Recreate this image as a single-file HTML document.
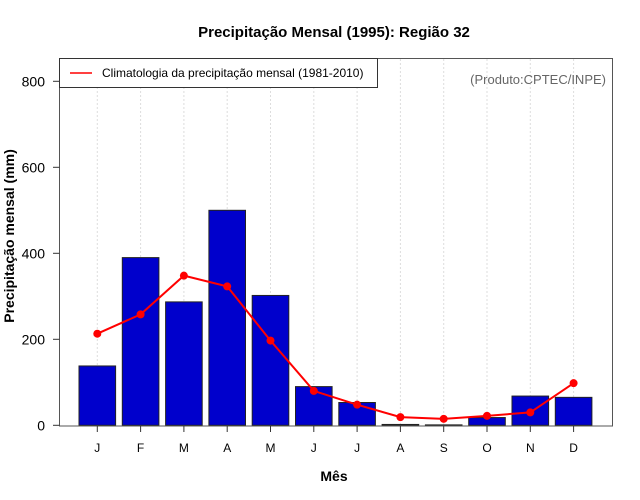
<!DOCTYPE html>
<html><head><meta charset="utf-8">
<style>
html,body{margin:0;padding:0;background:#fff;}
svg{display:block;font-family:"Liberation Sans",Arial,sans-serif;}
</style></head>
<body>
<svg id="chart" width="640" height="500" viewBox="0 0 640 500">
  <rect x="0" y="0" width="640" height="500" fill="#fff"/>
  <text x="334" y="37" text-anchor="middle" font-size="15" font-weight="bold">Precipitação Mensal (1995): Região 32</text>
  <g id="grid"></g>
  <g id="bars"></g>
  <g id="line"></g>
  <rect x="59.5" y="58.5" width="553" height="367.5" fill="none" stroke="#555" stroke-width="1"/>
  <g id="yaxis"></g>
  <g id="xaxis"></g>
  <text x="20" y="242" text-anchor="middle" font-size="14" font-weight="bold" transform="rotate(-90 14 242)">Precipitação mensal (mm)</text>
  <text x="334" y="481" text-anchor="middle" font-size="14" font-weight="bold">Mês</text>
  <g>
    <rect x="59.5" y="58.5" width="318" height="29" fill="#fff" stroke="#333"/>
    <line x1="70" y1="73" x2="92" y2="73" stroke="red" stroke-width="1.5"/>
    <text x="102" y="77" font-size="12">Climatologia da precipitação mensal (1981-2010)</text>
  </g>
  <text x="606" y="84" text-anchor="end" font-size="13" fill="#666">(Produto:CPTEC/INPE)</text>
</svg>
<script>
const months = ["J","F","M","A","M","J","J","A","S","O","N","D"];
const observed = [138, 390, 287, 500, 302, 90, 53, 2, 1, 18, 68, 65];
const climatology = [213, 258, 348, 323, 197, 80, 48, 19, 15, 22, 30, 98];
const yTicks = [0, 200, 400, 600, 800];

const NS = "http://www.w3.org/2000/svg";
function yScale(v){ return 425.3 - v * 0.43; }
function xScale(i){ return 97.3 + i * 43.3; }
const barW = 36.6;
function mk(tag, attrs, parent){
  const e = document.createElementNS(NS, tag);
  for (const k in attrs) e.setAttribute(k, attrs[k]);
  parent.appendChild(e);
  return e;
}
const grid = document.getElementById("grid");
const bars = document.getElementById("bars");
const line = document.getElementById("line");
const yaxis = document.getElementById("yaxis");
const xaxis = document.getElementById("xaxis");

months.forEach((m, i) => {
  const x = xScale(i);
  const g = mk("line", {x1:x, y1:59, x2:x, y2:425, stroke:"#ddd", "stroke-dasharray":"2,2"}, grid);
  
  
  const v = observed[i];
  const r = mk("rect", {x:x - barW/2, y:yScale(v), width:barW, height:yScale(0) - yScale(v), fill:"#0000cc", stroke:"#222", "stroke-width":1}, bars);
  
  
  const t = mk("line", {x1:x, y1:426, x2:x, y2:432, stroke:"#333"}, xaxis);
  
  
  const l = mk("text", {x:x, y:452, "text-anchor":"middle", "font-size":12}, xaxis);
  l.textContent = m;
  
  
});

const pts = climatology.map((v, i) => xScale(i) + "," + yScale(v)).join(" ");
const pl = mk("polyline", {points:pts, fill:"none", stroke:"red", "stroke-width":2}, line);


climatology.forEach((v, i) => {
  const c = mk("circle", {cx:xScale(i), cy:yScale(v), r:4, fill:"red"}, line);
  
  
});

yTicks.forEach(v => {
  const y = yScale(v);
  const t = mk("line", {x1:53, y1:y, x2:59.5, y2:y, stroke:"#333"}, yaxis);
  
  
  const l = mk("text", {x:45, y:y + 5, "text-anchor":"end", "font-size":14}, yaxis);
  l.textContent = v;
  
  
});
</script>
</body></html>
